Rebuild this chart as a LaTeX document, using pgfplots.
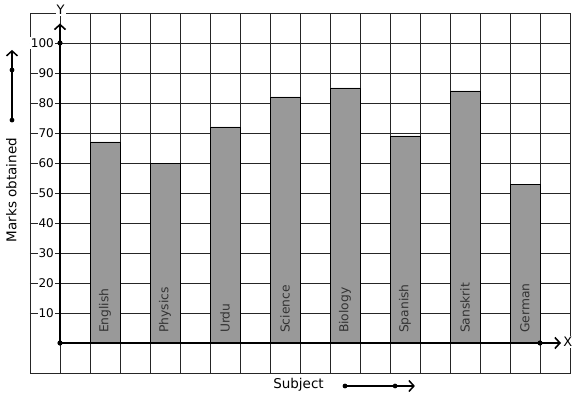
\documentclass[border=0pt]{standalone}
\usepackage{pgfplots}
\pgfplotsset{compat=1.18}
\usepackage{fontspec}
\setmainfont{DejaVu Sans}
\usetikzlibrary{arrows.meta}
\definecolor{barfill}{HTML}{999999}
\tikzset{barlab/.style={rotate=90, anchor=west, inner sep=0pt, text=black!80, font=\fontsize{12.3}{12}\selectfont}}
\begin{document}
\begin{tikzpicture}[x=1pt,y=1pt]
\useasboundingbox (-60,-56) rectangle (517,343);
\begin{axis}[
  anchor=origin, at={(0,0)},
  x=30pt, y=3pt,
  xmin=-1, xmax=17, ymin=-10, ymax=110,
  xtick={0,...,16}, xticklabels={},
  ytick={10,20,...,100},
  major tick length=0pt,
  grid=major,
  major grid style={black!85, line width=0.8pt},
  axis line style={black!85, line width=0.8pt},
  yticklabel style={fill=white, inner sep=1pt, xshift=25pt, font=\fontsize{12}{12}\selectfont},
  /pgf/number format/assume math mode=true,
  clip=false,
]
\addplot[ybar, bar width=1, fill=barfill, draw=black, line width=0.8pt]
  coordinates {(1.5,67) (3.5,60) (5.5,72) (7.5,82) (9.5,85) (11.5,69) (13.5,84) (15.5,53)};

\node[barlab] at (axis cs:1.5,3.3) {English};
\node[barlab] at (axis cs:3.5,3.3) {Physics};
\node[barlab] at (axis cs:5.5,3.3) {Urdu};
\node[barlab] at (axis cs:7.5,3.3) {Science};
\node[barlab] at (axis cs:9.5,3.3) {Biology};
\node[barlab] at (axis cs:11.5,3.3) {Spanish};
\node[barlab] at (axis cs:13.5,3.3) {Sanskrit};
\node[barlab] at (axis cs:15.5,3.3) {German};

% axes
\draw[line width=2.3pt, -{Straight Barb[length=5pt,width=11pt,line width=1.6pt]}] (axis cs:0,0) -- (axis cs:16.7,0);
\draw[line width=2.3pt, -{Straight Barb[length=5pt,width=11pt,line width=1.6pt]}] (axis cs:0,0) -- (axis cs:0,106.5);
\fill (axis cs:0,0) circle (2.6pt);
\fill (axis cs:0,100) circle (2.6pt);
\fill (axis cs:16,0) circle (2.6pt);
\node[fill=white, inner sep=1pt, font=\fontsize{13}{13}\selectfont] at (axis cs:0.02,111) {Y};
\node[fill=white, inner sep=1pt, font=\fontsize{13}{13}\selectfont] at (axis cs:16.93,0.3) {X};

% y label with arrow
\draw[line width=2pt, -{Straight Barb[length=5pt,width=11pt,line width=1.5pt]}] (axis cs:-1.6,74.3) -- (axis cs:-1.6,97.7);
\fill (axis cs:-1.6,74.3) circle (2.4pt);
\fill (axis cs:-1.6,91) circle (2.4pt);
\node[rotate=90, font=\fontsize{13.5}{13.5}\selectfont] at (axis cs:-1.62,51) {Marks obtained};

% x label with arrow
\draw[line width=2pt, -{Straight Barb[length=5pt,width=11pt,line width=1.5pt]}] (axis cs:9.5,-14.33) -- (axis cs:11.83,-14.33);
\fill (axis cs:9.5,-14.33) circle (2.4pt);
\fill (axis cs:11.17,-14.33) circle (2.4pt);
\node[font=\fontsize{13.5}{13.5}\selectfont] at (axis cs:7.95,-14) {Subject};
\end{axis}
\end{tikzpicture}
\end{document}
